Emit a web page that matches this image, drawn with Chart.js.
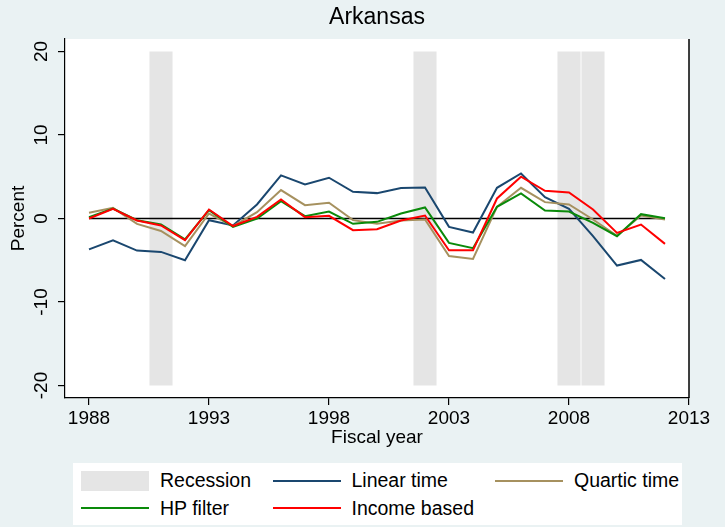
<!DOCTYPE html>
<html>
<head>
<meta charset="utf-8">
<title>Arkansas</title>
<script src="https://cdn.jsdelivr.net/npm/chart.js@4.4.1/dist/chart.umd.min.js"></script>
<style>
  body { margin: 0; background: #eaf2f3; }
  #wrap { position: relative; width: 725px; height: 527px; }
  #legend {
    position: absolute; left: 73px; top: 463px; width: 609px; height: 62px;
    background: #fff; box-sizing: border-box; padding: 4px 0 0 8px;
    display: grid; grid-template-columns: 191.5px 222.5px auto; grid-auto-rows: 27.5px;
    font: 19.5px "Liberation Sans", Arial, sans-serif; color: #000;
  }
  .item { display: flex; align-items: center; white-space: nowrap; }
  .sw { width: 68px; margin-right: 11px; flex: none; }
</style>
</head>
<body>
<div id="wrap">
  <canvas id="chart" width="725" height="527"></canvas>
  <div id="legend"></div>
</div>
<script>
// data
const years = [1988, 1989, 1990, 1991, 1992, 1993, 1994, 1995, 1996, 1997, 1998, 1999, 2000,
               2001, 2002, 2003, 2004, 2005, 2006, 2007, 2008, 2009, 2010, 2011, 2012];
const linearTime  = [-3.7, -2.6, -3.84, -4.0, -5.0, -0.2, -0.84, 1.68, 5.16, 4.08, 4.88, 3.2, 3.04,
                     3.64, 3.72, -1.0, -1.68, 3.68, 5.4, 2.56, 1.16, -2.12, -5.64, -4.96, -7.24];
const quarticTime = [0.68, 1.28, -0.64, -1.5, -3.3, 0.6, -0.9, 0.76, 3.4, 1.6, 1.88, -0.2, -0.64,
                     -0.24, -0.12, -4.5, -4.84, 1.4, 3.68, 1.96, 1.68, -0.12, -2.08, 0.36, -0.12];
const hpFilter    = [0.16, 1.2, -0.2, -0.72, -2.5, 1.0, -1.0, 0.0, 2.08, 0.28, 0.84, -0.64, -0.4,
                     0.6, 1.32, -2.92, -3.56, 1.4, 3.0, 0.96, 0.84, -0.52, -2.12, 0.52, 0.04];
const incomeBased = [0.0, 1.16, -0.24, -0.84, -2.6, 1.08, -0.9, 0.2, 2.28, 0.16, 0.32, -1.4, -1.28,
                     -0.24, 0.36, -3.8, -3.8, 2.4, 5.0, 3.32, 3.12, 1.08, -1.72, -0.72, -3.04];
const recessionYears = [1991, 2002, 2008, 2009];
const recessionLow = -20;
const recessionHigh = 20;
const xTicks = [1988, 1993, 1998, 2003, 2008, 2013];
const yTicks = [-20, -10, 0, 10, 20];

Chart.defaults.font.family = '"Liberation Sans", Arial, sans-serif';
Chart.defaults.color = '#000';

function series(label, values, color, order) {
    return {
        type: 'line',
        label: label,
        data: values.map((v, i) => ({ x: years[i], y: v })),
        borderColor: color,
        backgroundColor: color,
        borderWidth: 2,
        pointRadius: 0,
        tension: 0,
        order: order
    };
}

const datasets = [
    {
        type: 'bar',
        label: 'Recession',
        data: recessionYears.map(x => ({ x: x, y: [recessionLow, recessionHigh] })),
        backgroundColor: '#e5e5e5',
        borderWidth: 0,
        barPercentage: 0.96,
        categoryPercentage: 1,
        order: 10
    },
    {
        type: 'line',
        label: 'zero',
        data: [{ x: years[0], y: 0 }, { x: years[years.length - 1], y: 0 }],
        borderColor: '#000',
        borderWidth: 1.5,
        pointRadius: 0,
        order: 9
    },
    series('Linear time', linearTime, '#1a476f', 4),
    series('Quartic time', quarticTime, '#a6915f', 3),
    series('HP filter', hpFilter, '#0a8a0a', 2),
    series('Income based', incomeBased, '#ff0000', 1)
];

// white plot region and right frame line
const plotFrame = {
    id: 'plotFrame',
    beforeDraw(chart) {
        const { ctx, chartArea: a } = chart;
        ctx.save();
        ctx.fillStyle = '#fff';
        ctx.fillRect(a.left, a.top, a.right - a.left, a.bottom - a.top);
        ctx.restore();
    },
    afterDraw(chart) {
        const { ctx, chartArea: a } = chart;
        ctx.save();
        ctx.strokeStyle = '#000';
        ctx.lineWidth = 1.5;
        ctx.beginPath();
        ctx.moveTo(a.right, a.top);
        ctx.lineTo(a.right, a.bottom);
        ctx.stroke();
        ctx.restore();
    }
};

new Chart(document.getElementById('chart'), {
    type: 'line',
    data: { datasets: datasets },
    plugins: [plotFrame],
    options: {
        responsive: false,
        animation: false,
        layout: { padding: { top: 0, right: 36, bottom: 77, left: 0 } },
        plugins: {
            legend: { display: false },
            tooltip: { enabled: false },
            title: {
                display: true,
                text: 'Arkansas',
                fullSize: false,
                font: { size: 23, weight: 'normal' },
                padding: { top: 4, bottom: 7.4 }
            }
        },
        scales: {
            x: {
                type: 'linear',
                min: 1987,
                max: 2013,
                offset: false,
                afterBuildTicks: s => { s.ticks = xTicks.map(v => ({ value: v })); },
                afterFit: s => { s.height = 52; },
                grid: { drawOnChartArea: false, offset: false, tickLength: 7, color: '#000', lineWidth: 1.2 },
                border: { color: '#000', width: 1.2 },
                ticks: { padding: 2, maxRotation: 0, autoSkip: false, font: { size: 19 }, callback: v => String(v) },
                title: { display: true, text: 'Fiscal year', font: { size: 19 }, padding: { top: 0, bottom: 1 } }
            },
            y: {
                min: -21.5,
                max: 21.5,
                afterBuildTicks: s => { s.ticks = yTicks.map(v => ({ value: v })); },
                afterFit: s => { s.width = 65; },
                grid: { drawOnChartArea: false, tickLength: 7, color: '#000', lineWidth: 1.2 },
                border: { color: '#000', width: 1.2 },
                ticks: { minRotation: 90, maxRotation: 90, crossAlign: 'center', padding: 3, font: { size: 19 } },
                title: { display: true, text: 'Percent', font: { size: 19 }, padding: { top: 7, bottom: 0 } }
            }
        }
    }
});

// legend in Stata's three-column layout
const legend = document.getElementById('legend');
datasets.filter(d => d.label !== 'zero').forEach(d => {
    const item = document.createElement('div');
    item.className = 'item';
    const sw = document.createElement('span');
    sw.className = 'sw';
    if (d.type === 'bar') {
        sw.style.height = '20px';
        sw.style.background = d.backgroundColor;
    } else {
        sw.style.height = d.borderWidth + 'px';
        sw.style.background = d.borderColor;
    }
    item.appendChild(sw);
    item.appendChild(document.createTextNode(d.label));
    legend.appendChild(item);
});
</script>
</body>
</html>
